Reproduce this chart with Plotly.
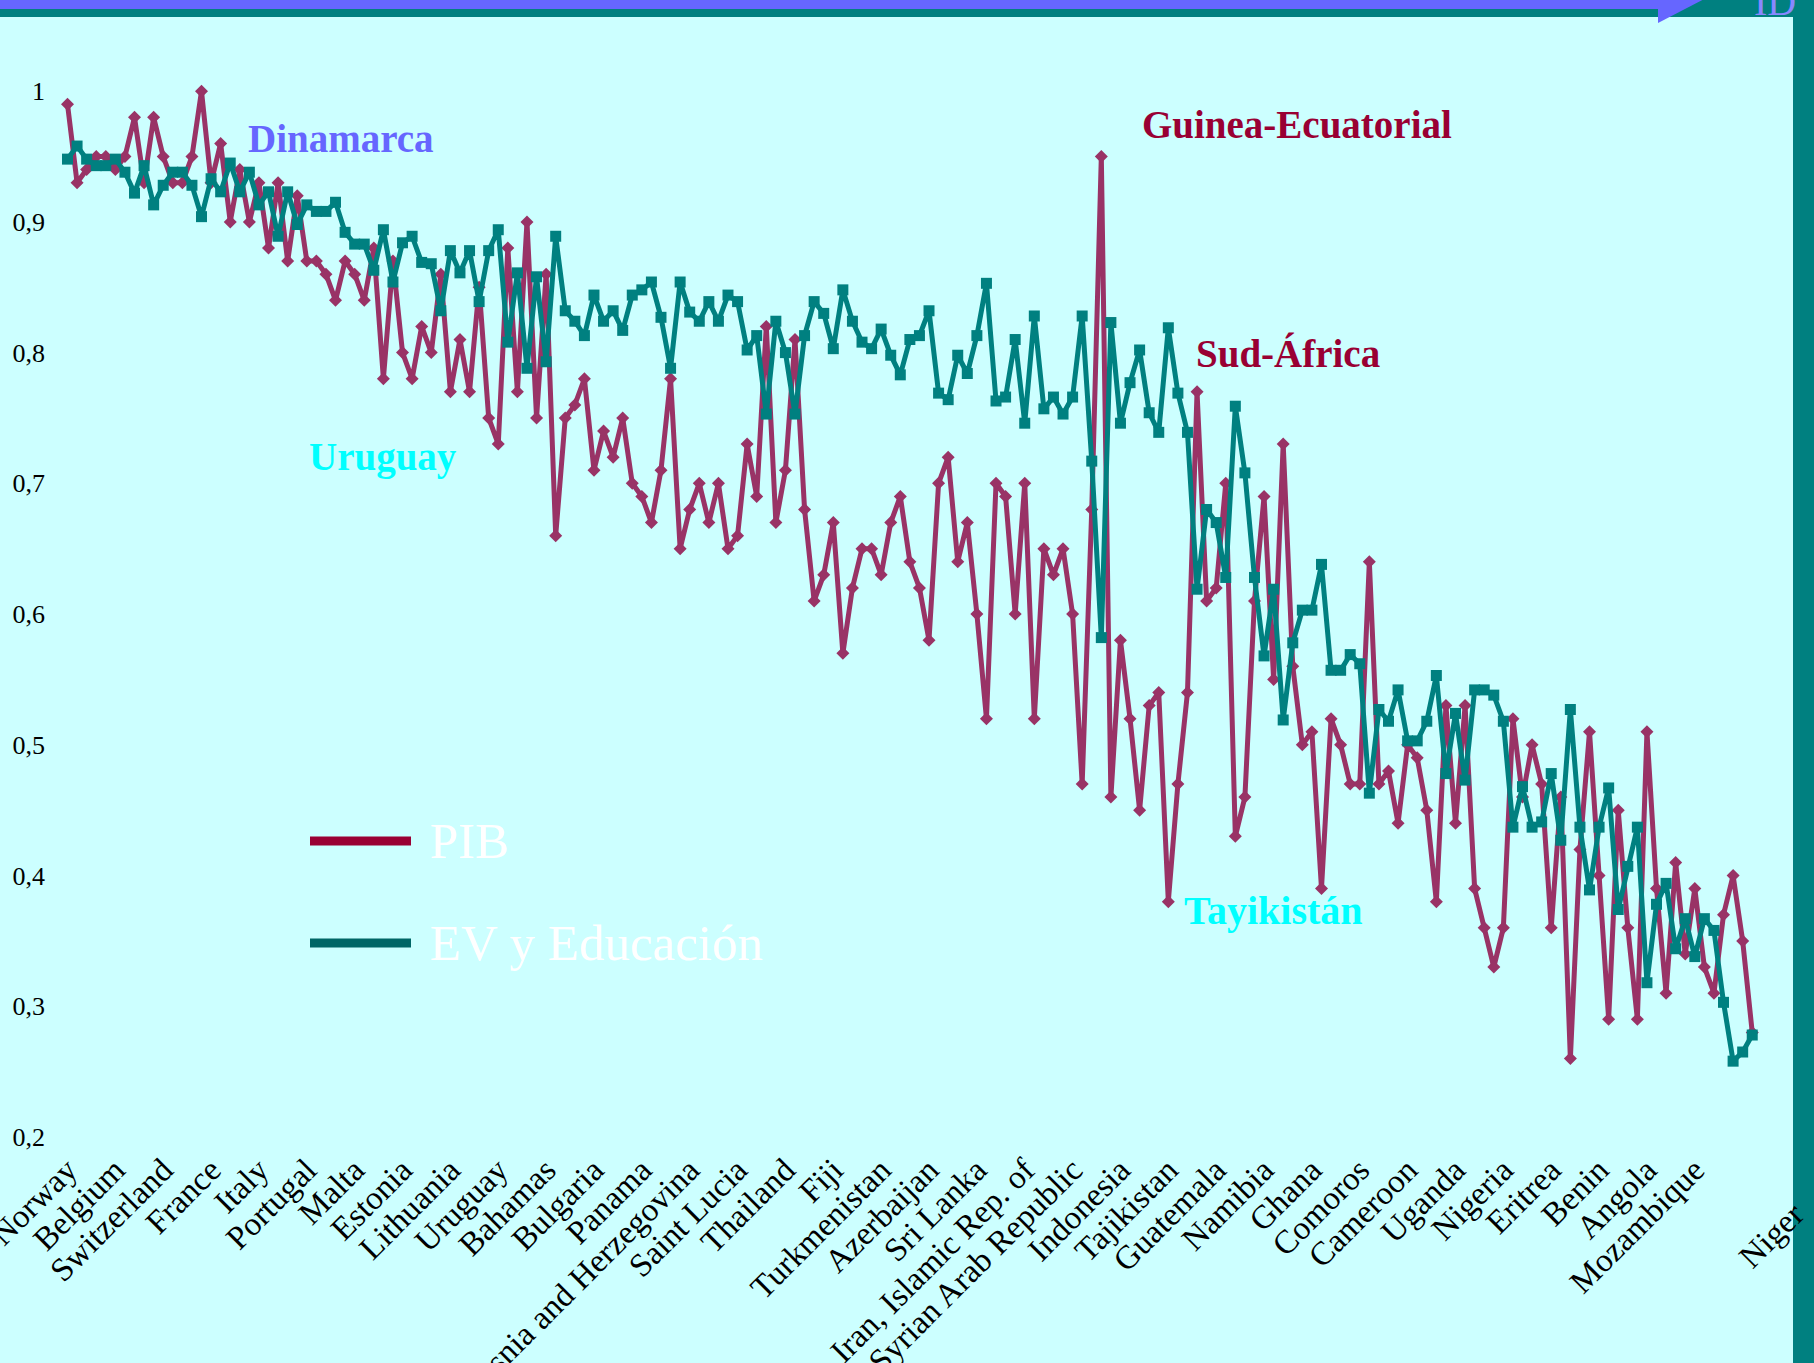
import plotly.graph_objects as go

# Countries in HDI rank order (HDR 2004), one category per country
countries = [
    "Norway", "Sweden", "Australia", "Canada", "Netherlands", "Belgium", "Iceland", "United States",
    "Japan", "Ireland", "Switzerland", "United Kingdom", "Finland", "Austria", "Luxembourg", "France",
    "Denmark", "New Zealand", "Germany", "Spain", "Italy", "Israel", "Hong Kong", "Greece",
    "Singapore", "Portugal", "Slovenia", "Korea", "Barbados", "Cyprus", "Malta", "Czech Republic",
    "Brunei", "Argentina", "Seychelles", "Estonia", "Poland", "Hungary", "Saint Kitts and Nevis", "Bahrain",
    "Lithuania", "Slovakia", "Chile", "Kuwait", "Costa Rica", "Uruguay", "Qatar", "Croatia",
    "United Arab Emirates", "Latvia", "Bahamas", "Cuba", "Mexico", "Trinidad and Tobago", "Antigua and Barbuda", "Bulgaria",
    "Russian Federation", "Libya", "Malaysia", "Macedonia", "Panama", "Belarus", "Tonga", "Mauritius",
    "Albania", "Bosnia and Herzegovina", "Suriname", "Venezuela", "Romania", "Ukraine", "Saint Lucia", "Brazil",
    "Colombia", "Oman", "Samoa", "Thailand", "Saudi Arabia", "Kazakhstan", "Jamaica", "Lebanon",
    "Fiji", "Armenia", "Philippines", "Maldives", "Peru", "Turkmenistan", "Saint Vincent", "Turkey",
    "Paraguay", "Jordan", "Azerbaijan", "Tunisia", "Grenada", "China", "Dominica", "Sri Lanka",
    "Georgia", "Dominican Republic", "Belize", "Ecuador", "Iran, Islamic Rep. of", "Occupied Palestinian Territories", "El Salvador", "Guyana",
    "Cape Verde", "Syrian Arab Republic", "Uzbekistan", "Algeria", "Equatorial Guinea", "Kyrgyzstan", "Indonesia", "Viet Nam",
    "Moldova", "Bolivia", "Honduras", "Tajikistan", "Mongolia", "Nicaragua", "South Africa", "Egypt",
    "Guatemala", "Gabon", "Sao Tome and Principe", "Solomon Islands", "Morocco", "Namibia", "India", "Botswana",
    "Vanuatu", "Cambodia", "Ghana", "Myanmar", "Papua New Guinea", "Bhutan", "Lao PDR", "Comoros",
    "Swaziland", "Bangladesh", "Sudan", "Nepal", "Cameroon", "Pakistan", "Togo", "Congo",
    "Lesotho", "Uganda", "Zimbabwe", "Kenya", "Yemen", "Madagascar", "Nigeria", "Mauritania",
    "Haiti", "Djibouti", "Gambia", "Eritrea", "Senegal", "Timor-Leste", "Rwanda", "Guinea",
    "Benin", "Tanzania", "Cote d'Ivoire", "Zambia", "Malawi", "Angola", "Chad", "Congo, Dem. Rep.",
    "Central African Republic", "Ethiopia", "Mozambique", "Guinea-Bissau", "Burundi", "Mali", "Burkina Faso", "Niger",
    "Sierra Leone",
]

# GDP index
pib = [
    0.99, 0.93, 0.94, 0.95, 0.95, 0.94, 0.95, 0.98, 0.93, 0.98, 0.95, 0.93, 0.93, 0.95, 1.00, 0.93,
    0.96, 0.90, 0.94, 0.90, 0.93, 0.88, 0.93, 0.87, 0.92, 0.87, 0.87, 0.86, 0.84, 0.87, 0.86, 0.84,
    0.88, 0.78, 0.87, 0.80, 0.78, 0.82, 0.80, 0.86, 0.77, 0.81, 0.77, 0.85, 0.75, 0.73, 0.88, 0.77,
    0.90, 0.75, 0.86, 0.66, 0.75, 0.76, 0.78, 0.71, 0.74, 0.72, 0.75, 0.70, 0.69, 0.67, 0.71, 0.78,
    0.65, 0.68, 0.70, 0.67, 0.70, 0.65, 0.66, 0.73, 0.69, 0.82, 0.67, 0.71, 0.81, 0.68, 0.61, 0.63,
    0.67, 0.57, 0.62, 0.65, 0.65, 0.63, 0.67, 0.69, 0.64, 0.62, 0.58, 0.70, 0.72, 0.64, 0.67, 0.60,
    0.52, 0.70, 0.69, 0.60, 0.70, 0.52, 0.65, 0.63, 0.65, 0.60, 0.47, 0.68, 0.95, 0.46, 0.58, 0.52,
    0.45, 0.53, 0.54, 0.38, 0.47, 0.54, 0.77, 0.61, 0.62, 0.70, 0.43, 0.46, 0.61, 0.69, 0.55, 0.73,
    0.56, 0.50, 0.51, 0.39, 0.52, 0.50, 0.47, 0.47, 0.64, 0.47, 0.48, 0.44, 0.50, 0.49, 0.45, 0.38,
    0.53, 0.44, 0.53, 0.39, 0.36, 0.33, 0.36, 0.52, 0.46, 0.50, 0.47, 0.36, 0.46, 0.26, 0.42, 0.51,
    0.40, 0.29, 0.45, 0.36, 0.29, 0.51, 0.39, 0.31, 0.41, 0.34, 0.39, 0.33, 0.31, 0.37, 0.40, 0.35,
    0.28,
]

# Life expectancy and education (average index)
ev_edu = [
    0.948, 0.958, 0.948, 0.943, 0.943, 0.948, 0.938, 0.922, 0.943, 0.913, 0.928, 0.938, 0.938, 0.928, 0.904, 0.933,
    0.923, 0.945, 0.923, 0.938, 0.913, 0.923, 0.889, 0.923, 0.898, 0.913, 0.908, 0.908, 0.915, 0.892, 0.883, 0.883,
    0.863, 0.894, 0.854, 0.884, 0.889, 0.869, 0.868, 0.832, 0.878, 0.861, 0.878, 0.839, 0.878, 0.894, 0.808, 0.861,
    0.788, 0.858, 0.793, 0.889, 0.832, 0.824, 0.813, 0.844, 0.824, 0.832, 0.817, 0.844, 0.848, 0.854, 0.827, 0.788,
    0.854, 0.831, 0.824, 0.839, 0.824, 0.844, 0.839, 0.802, 0.813, 0.753, 0.824, 0.800, 0.753, 0.813, 0.839, 0.830,
    0.803, 0.848, 0.824, 0.808, 0.803, 0.818, 0.798, 0.783, 0.810, 0.813, 0.832, 0.769, 0.764, 0.798, 0.784, 0.813,
    0.853, 0.763, 0.766, 0.810, 0.746, 0.828, 0.757, 0.766, 0.753, 0.766, 0.828, 0.717, 0.582, 0.823, 0.746, 0.777,
    0.802, 0.754, 0.739, 0.819, 0.769, 0.739, 0.619, 0.680, 0.670, 0.628, 0.759, 0.708, 0.628, 0.568, 0.619, 0.519,
    0.578, 0.603, 0.603, 0.638, 0.557, 0.557, 0.569, 0.562, 0.463, 0.527, 0.518, 0.542, 0.503, 0.503, 0.518, 0.553,
    0.478, 0.524, 0.473, 0.542, 0.542, 0.538, 0.518, 0.437, 0.468, 0.437, 0.441, 0.478, 0.427, 0.527, 0.437, 0.389,
    0.437, 0.467, 0.374, 0.407, 0.437, 0.318, 0.378, 0.394, 0.344, 0.367, 0.338, 0.367, 0.358, 0.303, 0.258, 0.265,
    0.278,
]

# every fifth country gets a label; Niger is placed on its own like in the slide
tick_countries = countries[0:175:5]
y_ticks = [0.2, 0.3, 0.4, 0.5, 0.6, 0.7, 0.8, 0.9, 1.0]
y_ticktext = ["0,2", "0,3", "0,4", "0,5", "0,6", "0,7", "0,8", "0,9", "1"]

W, H = 1814, 1363
L, R, T, B = 46, 34, 65, 220
FONT = "Liberation Serif"
BG = "#CCFFFF"


def px_x(px):
    return (px - L) / (W - L - R)


def px_y(py):
    return (H - B - py) / (H - T - B)


fig = go.Figure()

fig.add_trace(go.Scatter(
    x=countries, y=pib, name="PIB", mode="lines+markers",
    line=dict(color="#993366", width=5),
    marker=dict(symbol="diamond", size=10, color="#993366"),
    cliponaxis=False,
))
fig.add_trace(go.Scatter(
    x=countries, y=ev_edu, name="EV y Educación", mode="lines+markers",
    line=dict(color="#008080", width=5),
    marker=dict(symbol="square", size=11, color="#008080"),
    cliponaxis=False,
))

# hand-drawn legend of the slide
shapes = [
    dict(type="line", xref="paper", yref="paper", x0=px_x(310), x1=px_x(411), y0=px_y(841), y1=px_y(841),
         line=dict(color="#990033", width=9)),
    dict(type="line", xref="paper", yref="paper", x0=px_x(310), x1=px_x(411), y0=px_y(943), y1=px_y(943),
         line=dict(color="#006666", width=9)),
    # slide frame: teal band on top, title rule with arrow, teal bar on the right
    dict(type="rect", xref="paper", yref="paper", x0=px_x(-5), x1=px_x(W + 5), y0=px_y(17), y1=px_y(-5),
         fillcolor="#008080", line=dict(width=0), layer="above"),
    dict(type="rect", xref="paper", yref="paper", x0=px_x(-5), x1=px_x(1662), y0=px_y(9), y1=px_y(-5),
         fillcolor="#6666FF", line=dict(width=0), layer="above"),
    dict(type="path", xref="paper", yref="paper",
         path=f"M {px_x(1658)},{px_y(-5)} L {px_x(1712)},{px_y(-5)} L {px_x(1658)},{px_y(23)} Z",
         fillcolor="#6666FF", line=dict(width=0), layer="above"),
    dict(type="rect", xref="paper", yref="paper", x0=px_x(1793), x1=px_x(W + 5), y0=px_y(H + 5), y1=px_y(-5),
         fillcolor="#008080", line=dict(width=0), layer="above"),
]

annotations = [
    dict(text="PIB", x=px_x(428), y=px_y(841), xanchor="left", yanchor="middle",
         font=dict(family=FONT, size=51, color="white")),
    dict(text="EV y Educación", x=px_x(428), y=px_y(943), xanchor="left", yanchor="middle",
         font=dict(family=FONT, size=51, color="white")),
    dict(text="<b>Dinamarca</b>", x=px_x(246), y=px_y(139), xanchor="left", yanchor="middle",
         font=dict(family=FONT, size=39, color="#6666FF")),
    dict(text="<b>Guinea-Ecuatorial</b>", x=px_x(1140), y=px_y(124), xanchor="left", yanchor="middle",
         font=dict(family=FONT, size=39, color="#990033")),
    dict(text="<b>Sud-África</b>", x=px_x(1194), y=px_y(354), xanchor="left", yanchor="middle",
         font=dict(family=FONT, size=39, color="#990033")),
    dict(text="<b>Uruguay</b>", x=px_x(307), y=px_y(457), xanchor="left", yanchor="middle",
         font=dict(family=FONT, size=39, color="#00FFFF")),
    dict(text="<b>Tayikistán</b>", x=px_x(1182), y=px_y(910), xanchor="left", yanchor="middle",
         font=dict(family=FONT, size=40, color="#00FFFF")),
    dict(text="Niger", x=px_x(1771), y=px_y(1236), xanchor="center", yanchor="middle", textangle=-45,
         font=dict(family=FONT, size=33, color="black")),
    dict(text="ID", x=px_x(1752), y=px_y(2), xanchor="left", yanchor="middle",
         font=dict(family=FONT, size=40, color="#8888FF")),
]
for a in annotations:
    a.update(xref="paper", yref="paper", showarrow=False)

fig.update_layout(
    width=W, height=H,
    margin=dict(l=L, r=R, t=T, b=B),
    paper_bgcolor=BG, plot_bgcolor=BG,
    showlegend=False,
    separators=",.",
    font=dict(family=FONT, size=26, color="black"),
    shapes=shapes,
    annotations=annotations,
)
fig.update_xaxes(
    type="category", range=[-2.246, 178.9], automargin=False,
    tickmode="array", tickvals=tick_countries, ticktext=tick_countries,
    tickangle=-45, showgrid=False, zeroline=False, showline=False, ticks="",
    tickfont=dict(family=FONT, size=33, color="black"),
)
fig.update_yaxes(
    range=[0.1954, 1.02], automargin=False,
    tickmode="array", tickvals=y_ticks, ticktext=y_ticktext,
    showgrid=False, zeroline=False, showline=False, ticks="",
    tickfont=dict(family=FONT, size=26, color="black"),
)

fig.write_html(
    "out.html",
    config={"displayModeBar": False},
    post_script="document.body.style.margin='0';document.body.style.overflow='hidden';",
)
